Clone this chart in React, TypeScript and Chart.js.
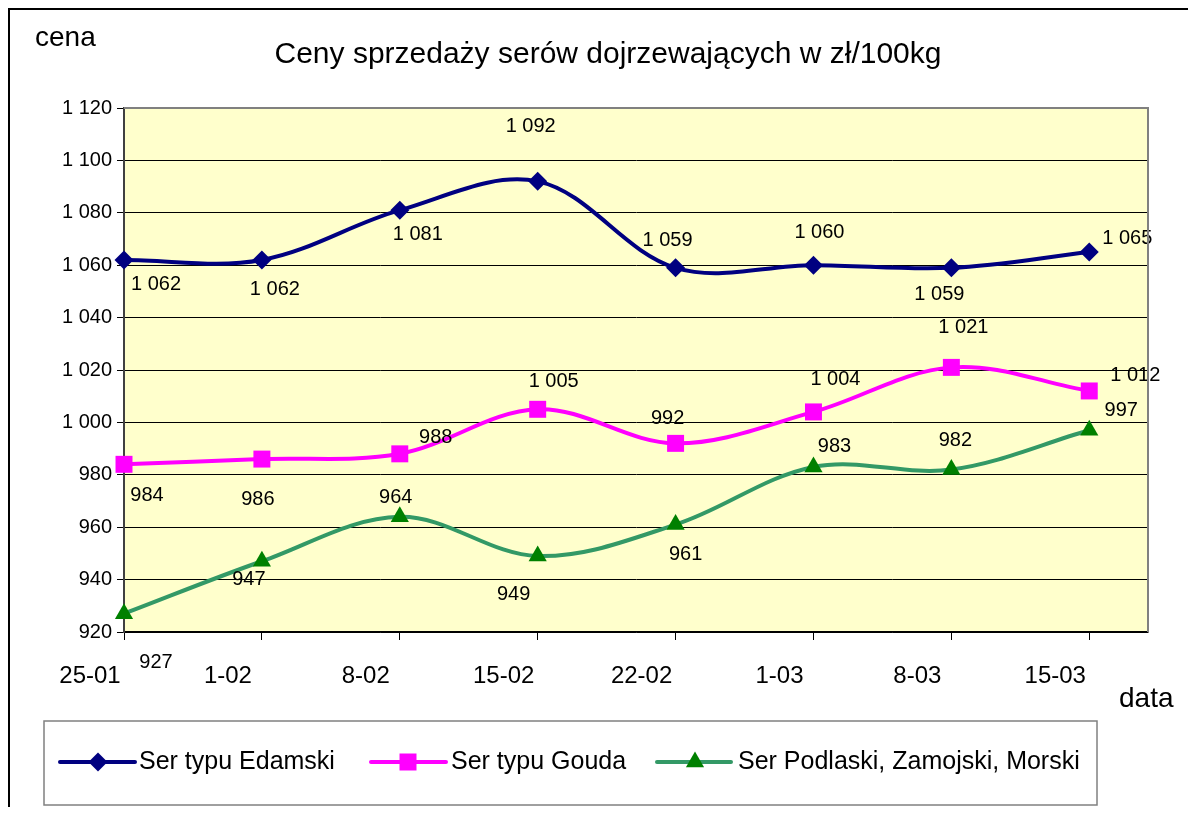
import React, { useEffect, useRef } from "react";
import { Chart, registerables } from "chart.js";

Chart.register(...registerables);

const dates = ["25-01", "1-02", "8-02", "15-02", "22-02", "1-03", "8-03", "15-03"];
const edamski = [1062, 1062, 1081, 1092, 1059, 1060, 1059, 1065];
const gouda = [984, 986, 988, 1005, 992, 1004, 1021, 1012];
const podlaski = [927, 947, 964, 949, 961, 983, 982, 997];

const seriesNames = ["Ser typu Edamski", "Ser typu Gouda", "Ser Podlaski, Zamojski, Morski"];

// label offsets (px) relative to each point
const edamskiLabelOffsets = [[32, 25], [13, 30], [18, 24], [-7, -55], [-8, -27], [6, -33], [-12, 27], [38, -14]];
const goudaLabelOffsets = [[23, 31], [-4, 40], [36, -16], [16, -28], [-8, -25], [22, -32], [12, -40], [46, -15]];
const podlaskiLabelOffsets = [[32, 49], [-13, 18], [-4, -19], [-24, 38], [10, 30], [21, -20], [4, -29], [32, -20]];

const FONT = "'Liberation Sans', Arial, sans-serif";
const W = 1188;
const H = 799;

const fmt = (v: number) => String(v).replace(/\B(?=(\d{3})+(?!\d))/g, " ");

function drawMarker(ctx: CanvasRenderingContext2D, style: string, x: number, y: number, color: string) {
  ctx.save();
  ctx.fillStyle = color;
  ctx.beginPath();
  if (style === "rectRot") {
    const r = 9.5;
    ctx.moveTo(x, y - r);
    ctx.lineTo(x + r, y);
    ctx.lineTo(x, y + r);
    ctx.lineTo(x - r, y);
  } else if (style === "rect") {
    const s = 8.5;
    ctx.rect(x - s, y - s, 2 * s, 2 * s);
  } else {
    const r = 10.5;
    ctx.moveTo(x, y - r);
    ctx.lineTo(x + r * 0.866, y + r / 2);
    ctx.lineTo(x - r * 0.866, y + r / 2);
  }
  ctx.closePath();
  ctx.fill();
  ctx.restore();
}

const decorPlugin = {
  id: "decor",
  beforeDraw(chart: any) {
    const { ctx, chartArea: a } = chart;
    ctx.save();
    ctx.fillStyle = "#FFFFCC";
    ctx.fillRect(a.left, a.top, a.right - a.left, a.bottom - a.top);
    // outer frame (top and left visible)
    ctx.strokeStyle = "#000000";
    ctx.lineWidth = 2;
    ctx.beginPath();
    ctx.moveTo(1, H + 10);
    ctx.lineTo(1, 1);
    ctx.lineTo(W + 10, 1);
    ctx.stroke();
    ctx.restore();
  },
  afterDraw(chart: any) {
    const { ctx, chartArea: a } = chart;
    ctx.save();
    // plot frame top/right
    ctx.strokeStyle = "#808080";
    ctx.lineWidth = 2;
    ctx.beginPath();
    ctx.moveTo(a.left, a.top);
    ctx.lineTo(a.right, a.top);
    ctx.lineTo(a.right, a.bottom);
    ctx.stroke();

    ctx.fillStyle = "#000";
    // title
    ctx.font = `30px ${FONT}`;
    ctx.textAlign = "center";
    ctx.textBaseline = "alphabetic";
    ctx.fillText("Ceny sprzedaży serów dojrzewających w zł/100kg", 600, 55);
    // axis titles
    ctx.font = `28px ${FONT}`;
    ctx.textAlign = "left";
    ctx.fillText("cena", 27, 38);
    ctx.fillText("data", 1111, 699);

    // legend
    const lx = 36, ly = 713, lw = 1053, lh = 84;
    ctx.strokeStyle = "#808080";
    ctx.lineWidth = 1.5;
    ctx.strokeRect(lx, ly, lw, lh);
    const cy = 754;
    const items = [
      { x0: 52, x1: 127, m: 90, tx: 131, line: "#000080", mark: "#000080", style: "rectRot" },
      { x0: 363, x1: 438, m: 400, tx: 443, line: "#FF00FF", mark: "#FF00FF", style: "rect" },
      { x0: 649, x1: 723, m: 687, tx: 730, line: "#339966", mark: "#008000", style: "triangle" },
    ];
    items.forEach((it, i) => {
      ctx.strokeStyle = it.line;
      ctx.lineWidth = 4;
      ctx.lineCap = "round";
      ctx.beginPath();
      ctx.moveTo(it.x0, cy);
      ctx.lineTo(it.x1, cy);
      ctx.stroke();
      drawMarker(ctx, it.style, it.m, cy, it.mark);
      ctx.fillStyle = "#000";
      ctx.font = `25px ${FONT}`;
      ctx.textAlign = "left";
      ctx.textBaseline = "middle";
      ctx.fillText(seriesNames[i], it.tx, cy);
    });
    ctx.restore();
  },
  afterDatasetsDraw(chart: any) {
    const { ctx } = chart;
    const offs = [edamskiLabelOffsets, goudaLabelOffsets, podlaskiLabelOffsets];
    ctx.save();
    ctx.fillStyle = "#000";
    ctx.font = `20px ${FONT}`;
    ctx.textAlign = "center";
    ctx.textBaseline = "middle";
    chart.data.datasets.forEach((ds: any, di: number) => {
      const meta = chart.getDatasetMeta(di);
      meta.data.forEach((pt: any, i: number) => {
        const [dx, dy] = offs[di][i];
        ctx.fillText(fmt(ds.data[i].y), pt.x + dx, pt.y + dy);
      });
    });
    ctx.restore();
  },
};

export default function App() {
  const ref = useRef<HTMLCanvasElement | null>(null);
  useEffect(() => {
    if (!ref.current) return;
    const toXY = (arr: number[]) => arr.map((v, i) => ({ x: i, y: v }));
    const chart = new Chart(ref.current, {
      type: "line",
      data: {
        datasets: [
          {
            label: seriesNames[0],
            data: toXY(edamski),
            borderColor: "#000080",
            backgroundColor: "#000080",
            borderWidth: 4,
            pointStyle: "rectRot",
            pointRadius: 9.5,
            pointBackgroundColor: "#000080",
            pointBorderColor: "#000080",
            pointBorderWidth: 0,
            tension: 0.35,
            clip: false,
          },
          {
            label: seriesNames[1],
            data: toXY(gouda),
            borderColor: "#FF00FF",
            backgroundColor: "#FF00FF",
            borderWidth: 4,
            pointStyle: "rect",
            pointRadius: 12,
            pointBackgroundColor: "#FF00FF",
            pointBorderColor: "#FF00FF",
            pointBorderWidth: 0,
            tension: 0.35,
            clip: false,
          },
          {
            label: seriesNames[2],
            data: toXY(podlaski),
            borderColor: "#339966",
            backgroundColor: "#008000",
            borderWidth: 4,
            pointStyle: "triangle",
            pointRadius: 10.5,
            pointBackgroundColor: "#008000",
            pointBorderColor: "#008000",
            pointBorderWidth: 0,
            tension: 0.35,
            clip: false,
          },
        ],
      },
      options: {
        responsive: false,
        animation: false,
        devicePixelRatio: 1,
        layout: { padding: { top: 100, left: 0, right: 48, bottom: 0 } },
        plugins: {
          legend: { display: false },
          title: { display: false },
          tooltip: { enabled: false },
        },
        scales: {
          x: {
            type: "linear",
            min: 0,
            max: 7.426,
            afterFit: (s: any) => {
              s.height = H - 624;
            },
            afterBuildTicks: (s: any) => {
              s.ticks = s.ticks.filter((t: any) => Number.isInteger(t.value) && t.value >= 0 && t.value < dates.length);
            },
            ticks: {
              stepSize: 1,
              includeBounds: false,
              autoSkip: false,
              maxRotation: 0,
              labelOffset: -34,
              padding: 22,
              color: "#000",
              font: { family: FONT, size: 24 },
              callback: (v: any) => dates[v] ?? "",
            },
            grid: { drawOnChartArea: false, drawTicks: true, tickLength: 8, color: "#000", lineWidth: 1 },
            border: { display: true, color: "#000", width: 1.5 },
          },
          y: {
            min: 920,
            max: 1120,
            afterFit: (s: any) => {
              s.width = 116;
            },
            ticks: {
              stepSize: 20,
              padding: 5,
              color: "#000",
              font: { family: FONT, size: 20 },
              callback: (v: any) => fmt(Number(v)),
            },
            grid: { color: "#000", lineWidth: 1, tickLength: 7 },
            border: { display: true, color: "#404040", width: 2 },
          },
        },
      },
      plugins: [decorPlugin],
    });
    return () => chart.destroy();
  }, []);
  return <canvas ref={ref} width={W} height={H} style={{ display: "block" }} />;
}
